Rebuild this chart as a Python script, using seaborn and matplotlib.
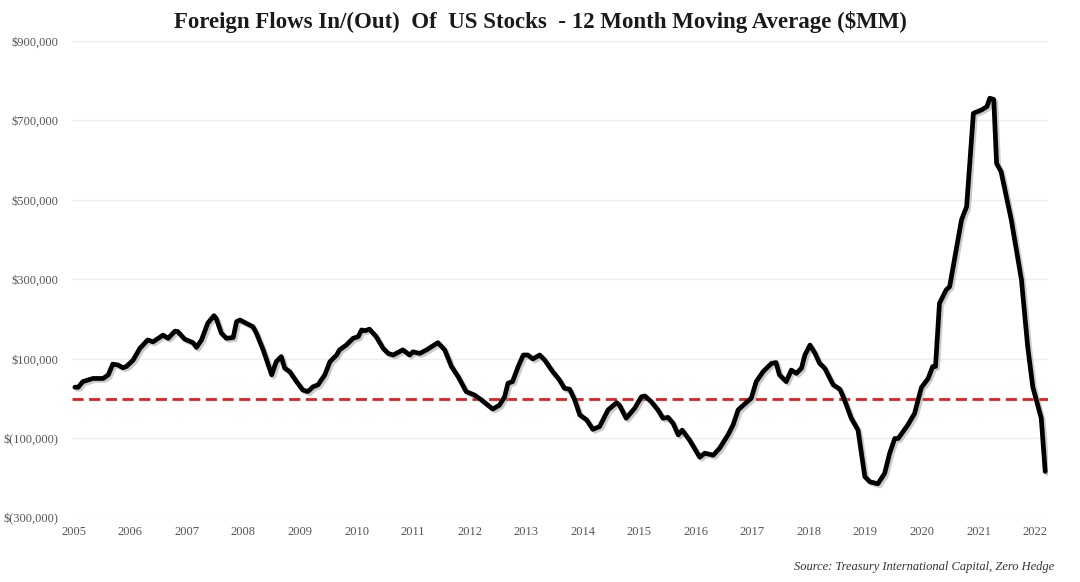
import numpy as np
import pandas as pd
import matplotlib
matplotlib.use("Agg")
import matplotlib.pyplot as plt
import matplotlib.patheffects as pe
import seaborn as sns

# data: decimal year and 12m moving average (thousands of $MM)
years = [2005.02, 2005.08, 2005.16, 2005.34, 2005.52, 2005.61, 2005.69, 2005.78, 2005.87, 2005.93,
         2006.05, 2006.17, 2006.31, 2006.40, 2006.58, 2006.67, 2006.79, 2006.84, 2006.96,
         2007.11, 2007.17, 2007.26, 2007.37, 2007.48, 2007.52, 2007.61, 2007.70, 2007.82, 2007.88, 2007.94,
         2008.05, 2008.17, 2008.23, 2008.35, 2008.50, 2008.58, 2008.67, 2008.73, 2008.82, 2008.94,
         2009.05, 2009.14, 2009.23, 2009.32, 2009.44, 2009.53, 2009.65, 2009.70, 2009.82, 2009.94,
         2010.03, 2010.09, 2010.15, 2010.23, 2010.35, 2010.47, 2010.56, 2010.65, 2010.82, 2010.94,
         2011.00, 2011.12, 2011.24, 2011.44, 2011.56, 2011.68, 2011.80, 2011.94,
         2012.09, 2012.21, 2012.41, 2012.53, 2012.62, 2012.68, 2012.76, 2012.86, 2012.95,
         2013.03, 2013.12, 2013.24, 2013.33, 2013.45, 2013.59, 2013.68, 2013.77, 2013.86, 2013.95,
         2014.07, 2014.18, 2014.30, 2014.45, 2014.60, 2014.65, 2014.77, 2014.92,
         2015.04, 2015.10, 2015.21, 2015.33, 2015.42, 2015.51, 2015.60, 2015.69, 2015.76, 2015.89,
         2016.07, 2016.16, 2016.31, 2016.42, 2016.57, 2016.66, 2016.75, 2016.89, 2016.98,
         2017.07, 2017.19, 2017.34, 2017.42, 2017.48, 2017.60, 2017.69, 2017.78, 2017.87, 2017.93,
         2018.02, 2018.11, 2018.19, 2018.28, 2018.43, 2018.55, 2018.63, 2018.75, 2018.87, 2018.99,
         2019.08, 2019.22, 2019.34, 2019.43, 2019.52, 2019.58, 2019.75, 2019.87, 2019.99,
         2020.11, 2020.19, 2020.24, 2020.31, 2020.43, 2020.49, 2020.70, 2020.79, 2020.91,
         2021.06, 2021.15, 2021.20, 2021.27, 2021.32, 2021.40, 2021.58, 2021.76, 2021.87, 2021.96,
         2022.11, 2022.18]

flow_k = [29, 29, 43, 51, 51, 60, 87, 85, 78, 81,
          97, 127, 148, 143, 160, 152, 170, 169, 150,
          141, 129, 148, 190, 209, 202, 165, 152, 154, 194, 198,
          190, 181, 165, 123, 60, 93, 106, 77, 68, 43,
          22, 18, 30, 35, 60, 93, 110, 123, 135, 152,
          156, 173, 171, 175, 156, 127, 114, 110, 123, 110,
          118, 114, 123, 141, 123, 81, 55, 18,
          9, -3, -26, -16, 5, 39, 43, 81, 110,
          110, 100, 110, 97, 72, 47, 26, 24, -3, -41,
          -53, -77, -70, -28, -10, -16, -49, -24,
          5, 7, -7, -28, -49, -47, -62, -91, -79, -104,
          -147, -137, -142, -125, -91, -66, -28, -10, 1,
          43, 68, 89, 91, 60, 43, 72, 64, 77, 110,
          135, 114, 89, 77, 35, 24, -3, -49, -79, -196,
          -209, -214, -188, -137, -100, -100, -66, -37, 28,
          51, 81, 81, 240, 274, 282, 450, 483, 718,
          727, 735, 756, 753, 592, 571, 450, 299, 131, 30,
          -49, -183]

year_ticks = list(range(2005, 2023))
y_ticks = [-300000, -100000, 100000, 300000, 500000, 700000, 900000]

title = "Foreign Flows In/(Out)  Of  US Stocks  - 12 Month Moving Average (\\$MM)"
source = "Source: Treasury International Capital, Zero Hedge"

df = pd.DataFrame({"year": years, "flow": np.array(flow_k) * 1000})

sns.set_style("white")
plt.rcParams["font.family"] = ["Liberation Serif", "DejaVu Serif"]

fig = plt.figure(figsize=(10.8, 5.82), dpi=100)
ax = fig.add_axes([0.0667, 0.110, 0.9037, 0.8196])

for yt in y_ticks:
    ax.axhline(yt, color="#eeeeee", lw=1, zorder=0)
ax.axhline(0, color="#e02020", lw=2, ls=(0, (4, 2)), zorder=1)

sns.lineplot(data=df, x="year", y="flow", color="black", lw=3.4, ax=ax, zorder=3,
             path_effects=[pe.SimpleLineShadow(offset=(1.5, -1.5), shadow_color="#999999", alpha=0.5),
                           pe.Normal()])

ax.set_xlim(2004.97, 2022.23)
ax.set_ylim(-300000, 900000)
ax.set_xticks(year_ticks)
ax.set_yticks(y_ticks)


def fmt(v):
    if v < 0:
        return "\\$({:,.0f})".format(-v)
    return "\\${:,.0f}".format(v)


ax.set_yticklabels([fmt(v) for v in y_ticks])
ax.tick_params(axis="both", length=0, labelsize=9, labelcolor="#555555")
ax.tick_params(axis="y", pad=10)
ax.tick_params(axis="x", pad=6)
ax.set_xlabel("")
ax.set_ylabel("")
sns.despine(ax=ax, left=True, bottom=True)

fig.text(0.5, 0.963, title, ha="center", va="center", fontsize=16.5, fontweight="bold", color="#1a1a1a")
fig.text(0.976, 0.026, source, ha="right", va="center", fontsize=9, style="italic", color="#333333")

fig.savefig("out.png", dpi=100)
